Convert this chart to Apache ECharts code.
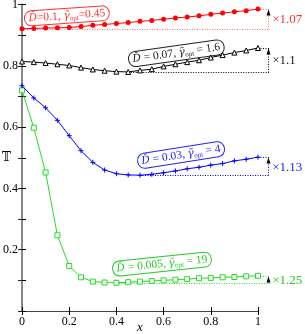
<!DOCTYPE html>
<html><head><meta charset="utf-8">
<script src="https://cdn.jsdelivr.net/npm/echarts@6/dist/echarts.min.js"></script>
<style>html,body{margin:0;padding:0;background:#fff}#c{width:305px;height:334px}</style>
</head><body><div id="c"></div>
<script>
// ---- data ----
const xValues = [0,0.05,0.1,0.15,0.2,0.25,0.3,0.35,0.4,0.45,0.5,0.55,0.6,0.65,0.7,0.75,0.8,0.85,0.9,0.95,1];
const redValues = [0.921,0.922,0.923,0.924,0.925,0.928,0.932,0.935,0.938,0.941,0.945,0.948,0.952,0.956,0.959,0.963,0.968,0.972,0.976,0.980,0.985];
const blackValues = [0.814,0.812,0.809,0.805,0.801,0.794,0.788,0.784,0.781,0.780,0.785,0.789,0.798,0.805,0.812,0.818,0.827,0.835,0.843,0.850,0.858];
const blueValues = [0.735,0.695,0.663,0.622,0.572,0.523,0.485,0.460,0.448,0.444,0.443,0.446,0.451,0.457,0.464,0.469,0.476,0.481,0.490,0.495,0.502];
const greenValues = [0.720,0.598,0.452,0.247,0.147,0.110,0.096,0.093,0.092,0.094,0.096,0.098,0.100,0.102,0.104,0.107,0.108,0.110,0.111,0.113,0.115];
const xTickLabels = ['0','0.2','0.4','0.6','0.8','1'];
const yTickLabels = ['0.2','0.4','0.6','0.8','1'];
const factorLabels = ['\u00d71.07','\u00d71.1','\u00d71.13','\u00d71.25'];
// [D-bar, text, gamma-tilde, subscript, text]
const curveLabelParts = [
  ['D\u0304', '=0.1, ', '\u03b3\u0303', 'opt', '=0.45'],
  ['D\u0304', ' = 0.07, ', '\u03b3\u0303', 'opt', ' = 1.6'],
  ['D\u0304', ' = 0.03, ', '\u03b3\u0303', 'opt', ' = 4'],
  ['D\u0304', ' = 0.005, ', '\u03b3\u0303', 'opt', ' = 19']
];

// ---- styling / layout ----
const FONT = 'Liberation Serif';
const seriesDefs = [
  {values: redValues, color:'#ff0000', fill:'#ff0000', textColor:'#ff3333', dotColor:'#ff7070', symbol:'circle', size:5, bw:0, label:{x:0.19,y:0.963,rot:4}},
  {values: blackValues, color:'#000000', fill:'#ffffff', textColor:'#222222', dotColor:'#000000', symbol:'triangle', size:5, bw:1, label:{x:0.654,y:0.841,rot:8}},
  {values: blueValues, color:'#0000ff', fill:'#0000ff', textColor:'#2222ff', dotColor:'#0000ff', symbol:'path://M5,0L5,10M0,5L10,5', size:5, bw:1, label:{x:0.674,y:0.509,rot:9}},
  {values: greenValues, color:'#22dd22', fill:'#ffffff', textColor:'#22cc22', dotColor:'#22dd22', symbol:'rect', size:5, bw:1, label:{x:0.593,y:0.153,rot:6}}
];

const chart = echarts.init(document.getElementById('c'));
const series = seriesDefs.map((s,k)=>({
  type:'line',
  data: xValues.map((x,i)=>[x,s.values[i]]),
  symbol: s.symbol, symbolSize: s.size, showSymbol:true,
  lineStyle:{color:s.color,width:1},
  itemStyle:{color:s.fill,borderColor:s.color,borderWidth:s.bw},
  z: 10-k, animation:false, clip:false
}));

const option = {
  animation:false,
  grid:{left:22,right:47,top:4.5,bottom:23,containLabel:false,outerBoundsMode:'none'},
  xAxis:[
    {type:'value',min:0,max:1,interval:0.2,position:'bottom',
     axisLine:{lineStyle:{color:'#000',width:1}},
     axisTick:{inside:true,length:4,lineStyle:{color:'#000'}},
     axisLabel:{formatter:v=>xTickLabels[Math.round(v/0.2)],fontFamily:FONT,fontSize:12,color:'#000',margin:5},
     splitLine:{show:false},
     name:'x',nameLocation:'middle',nameGap:10,nameMoveOverlap:false,
     nameTextStyle:{fontFamily:FONT,fontStyle:'italic',fontSize:13,color:'#000'}},
    {type:'value',min:0,max:1,interval:0.2,position:'top',
     axisLine:{lineStyle:{color:'#444',width:1}},
     axisTick:{inside:true,length:4,lineStyle:{color:'#000'}},
     axisLabel:{show:false},splitLine:{show:false}}
  ],
  yAxis:[
    {type:'value',min:0,max:1,interval:0.1,position:'left',
     axisLine:{lineStyle:{color:'#000',width:1}},
     axisTick:{inside:true,length:4,lineStyle:{color:'#000'}},
     axisLabel:{formatter:v=>{const n=Math.round(v*10);return (n>0&&n%2===0)?yTickLabels[n/2-1]:'';},fontFamily:FONT,fontSize:12,color:'#000',margin:4},
     splitLine:{show:false},
     name:'\ud835\udd4b',nameLocation:'middle',nameRotate:0,nameGap:11,nameMoveOverlap:false,
     nameTextStyle:{fontFamily:'DejaVu Serif, DejaVu Sans',fontSize:12,color:'#000'}},
    {type:'value',min:0,max:1,interval:0.1,position:'right',
     axisLine:{lineStyle:{color:'#888',width:2}},
     axisTick:{inside:true,length:4,lineStyle:{color:'#222'}},
     axisLabel:{show:false},splitLine:{show:false}}
  ],
  series: series
};
chart.setOption(option);

const P = (x,y)=>chart.convertToPixel({xAxisIndex:0,yAxisIndex:0},[x,y]);
const graphics = [];
seriesDefs.forEach((s,k)=>{
  const v = s.values;
  let mi = 0; v.forEach((val,i)=>{ if(val < v[mi]) mi=i; });
  const vmin = v[mi], vlast = v[v.length-1];
  const a = P(xValues[mi], vmin), b = P(1.05, vmin);
  const c = P(1, vlast), d = P(1.05, vlast);
  const ax = Math.round(P(1.042, vmin)[0])+0.5;
  const dash = {stroke:s.dotColor,lineWidth:1,lineDash:[1,1.5]};
  const ya = Math.round(a[1])+0.5, yc = Math.round(c[1])+0.5;
  graphics.push({type:'line',shape:{x1:a[0],y1:ya,x2:b[0],y2:ya},style:dash,silent:true,z:5});
  graphics.push({type:'line',shape:{x1:c[0],y1:yc,x2:d[0],y2:yc},style:dash,silent:true,z:5});
  graphics.push({type:'line',shape:{x1:ax,y1:ya,x2:ax,y2:yc},style:dash,silent:true,z:5});
  graphics.push({type:'polygon',shape:{points:[[ax,yc],[ax-2,yc+6],[ax+2,yc+6]]},style:{fill:'#000'},silent:true,z:6});
  const mid = P(1.06,(vmin+vlast)/2);
  graphics.push({type:'text',x:mid[0],y:mid[1]+1,silent:true,z:6,
    style:{text:factorLabels[k],fontFamily:FONT,fontSize:13,fill:s.textColor,align:'left',verticalAlign:'middle'}});
  const lp = P(s.label.x, s.label.y);
  const p = curveLabelParts[k];
  graphics.push({type:'text',x:lp[0],y:lp[1],rotation:s.label.rot*Math.PI/180,silent:true,z:8,
    style:{text:'{m|'+p[0]+'}{a|'+p[1]+'}{m|'+p[2]+'}{s|'+p[3]+'}{a|'+p[4]+'}',align:'center',verticalAlign:'middle',
      borderColor:s.textColor,borderWidth:1,borderRadius:7,padding:[1,4,1,4],
      rich:{a:{fontFamily:FONT,fontSize:11.5,fill:s.textColor,lineHeight:13},
            m:{fontFamily:'DejaVu Serif',fontStyle:'italic',fontSize:10.5,fill:s.textColor,lineHeight:13},
            s:{fontFamily:FONT,fontSize:7,fill:s.textColor,lineHeight:7,verticalAlign:'bottom'}}}});
});
chart.setOption({graphic:graphics});
</script></body></html>
